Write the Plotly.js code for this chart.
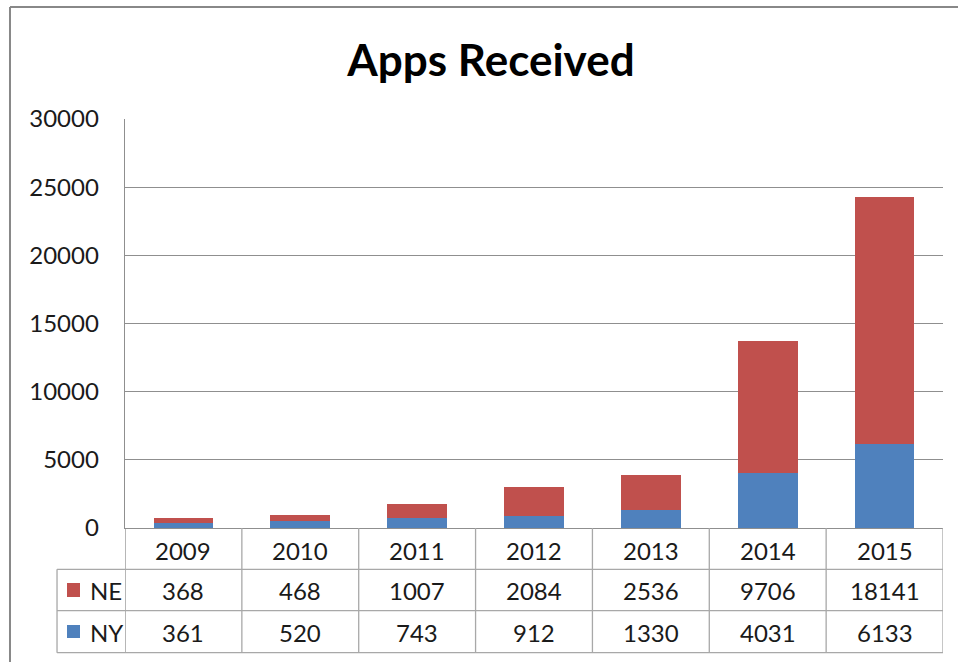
<!DOCTYPE html>
<html>
<head>
<meta charset="utf-8">
<script src="https://cdn.plot.ly/plotly-3.0.1.min.js"></script>
<style>
  html, body { margin: 0; padding: 0; background: #ffffff; }
  #chart { width: 958px; height: 662px; }
</style>
</head>
<body>
<div id="chart"></div>
<script>
// ---- data ----
const years = ["2009", "2010", "2011", "2012", "2013", "2014", "2015"];
const neValues = [368, 468, 1007, 2084, 2536, 9706, 18141];
const nyValues = [361, 520, 743, 912, 1330, 4031, 6133];
const seriesNames = ["NE", "NY"];
const yTicks = [0, 5000, 10000, 15000, 20000, 25000, 30000];
const titleText = "Apps Received";

// ---- styles ----
const NE_COLOR = "#C0504D";
const NY_COLOR = "#4F81BD";
const GRID = "#8f8f8f";
const TABLE_LINE = "#a8a8a8";
const TEXT = "#1a1a1a";
const FONT = "Lato, 'Liberation Sans', Arial, sans-serif";

// table geometry in paper coordinates (plot area height = 409px)
const rowHeader = -0.0538, rowNE = -0.1516, rowNY = -0.2543;
const lineHdr = -0.1010, lineMid = -0.2022, lineBot = -0.3049;
const legendLeft = -0.0831;

const traces = [
  { type: "bar", name: "NY", x: years, y: nyValues, marker: { color: NY_COLOR }, width: 0.51, hoverinfo: "x+y+name" },
  { type: "bar", name: "NE", x: years, y: neValues, marker: { color: NE_COLOR }, width: 0.51, hoverinfo: "x+y+name" }
];

const shapes = [];
const annotations = [];

// outer chart border
shapes.push({ type: "line", xref: "paper", yref: "paper", x0: -0.1406, x1: -0.1406, y0: 1.2738, y1: -0.4, line: { color: "#888888", width: 2 }, layer: "above" });
shapes.push({ type: "line", xref: "paper", yref: "paper", x0: -0.1406, x1: 1.2, y0: 1.2738, y1: 1.2738, line: { color: "#888888", width: 2 }, layer: "above" });

// vertical table lines at category boundaries
for (let i = 0; i <= years.length; i++) {
  shapes.push({ type: "line", xref: "x", yref: "paper", x0: i - 0.5, x1: i - 0.5, y0: 0, y1: lineBot, line: { color: i === 0 ? GRID : TABLE_LINE, width: 1.3 } });
}
// horizontal table lines
[lineHdr, lineMid, lineBot].forEach(function (yy) {
  shapes.push({ type: "line", xref: "paper", yref: "paper", x0: legendLeft, x1: 1, y0: yy, y1: yy, line: { color: TABLE_LINE, width: 1.3 } });
});
// legend-key column left border
shapes.push({ type: "line", xref: "paper", yref: "paper", x0: legendLeft, x1: legendLeft, y0: lineHdr, y1: lineBot, line: { color: TABLE_LINE, width: 1.3 } });

// legend keys
const keyColors = [NE_COLOR, NY_COLOR];
const keyY = [[-0.1345, -0.1687], [-0.2372, -0.2689]];
const rowY = [rowNE, rowNY];
seriesNames.forEach(function (nm, k) {
  shapes.push({ type: "rect", xref: "paper", yref: "paper", x0: -0.0709, x1: -0.0550, y0: keyY[k][0], y1: keyY[k][1], fillcolor: keyColors[k], line: { width: 0 } });
  annotations.push({ xref: "paper", yref: "paper", x: -0.0452, y: rowY[k], xanchor: "left", yanchor: "middle", text: nm, showarrow: false, font: { family: FONT, size: 24, color: TEXT } });
});

// table values and header (x given as category index)
years.forEach(function (yr, i) {
  annotations.push({ xref: "x", yref: "paper", x: i, y: rowHeader, text: yr, showarrow: false, xanchor: "center", yanchor: "middle", font: { family: FONT, size: 24, color: TEXT } });
  annotations.push({ xref: "x", yref: "paper", x: i, y: rowNE, text: String(neValues[i]), showarrow: false, xanchor: "center", yanchor: "middle", font: { family: FONT, size: 24, color: TEXT } });
  annotations.push({ xref: "x", yref: "paper", x: i, y: rowNY, text: String(nyValues[i]), showarrow: false, xanchor: "center", yanchor: "middle", font: { family: FONT, size: 24, color: TEXT } });
});

const layout = {
  width: 958,
  height: 662,
  margin: { l: 125, r: 15, t: 119, b: 134, pad: 0 },
  paper_bgcolor: "#ffffff",
  plot_bgcolor: "#ffffff",
  barmode: "stack",
  showlegend: false,
  font: { family: FONT, size: 24, color: TEXT },
  title: {
    text: "<b>" + titleText + "</b>",
    font: { family: FONT, size: 44, color: "#000000" },
    xref: "container", x: 0.5125, xanchor: "center",
    yref: "container", y: 0.908, yanchor: "middle"
  },
  xaxis: {
    type: "category",
    range: [-0.5, years.length - 0.5],
    showticklabels: false,
    showgrid: false,
    zeroline: false,
    showline: true,
    linecolor: GRID,
    linewidth: 1.3,
    ticks: "",
    fixedrange: true
  },
  yaxis: {
    range: [0, 30000],
    tickvals: yTicks,
    ticktext: yTicks.map(String),
    showgrid: true,
    gridcolor: GRID,
    gridwidth: 1.3,
    zeroline: false,
    showline: true,
    linecolor: GRID,
    linewidth: 1.3,
    ticks: "",
    ticklabelstandoff: 20,
    tickfont: { family: FONT, size: 24, color: TEXT },
    fixedrange: true
  },
  shapes: shapes,
  annotations: annotations
};

Plotly.newPlot("chart", traces, layout, { displayModeBar: false, staticPlot: true });
</script>
</body>
</html>
